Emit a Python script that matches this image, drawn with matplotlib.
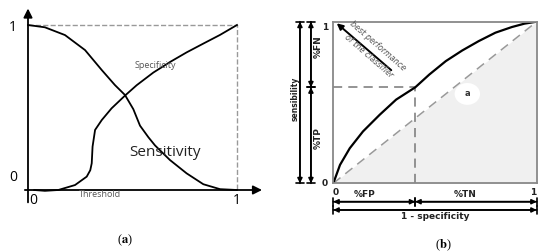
import numpy as np
import matplotlib
matplotlib.use('Agg')
import matplotlib.pyplot as plt
from matplotlib.patches import Ellipse

plt.rcParams['mathtext.fontset'] = 'stix'

# Panel (a): specificity / sensitivity against threshold
spec_x = [0.0, 0.081, 0.177, 0.273, 0.353, 0.416, 0.464, 0.504, 0.536, 0.576, 0.608, 0.679, 0.759, 0.839, 0.919, 1.0]
spec_y = [1.0, 0.986, 0.939, 0.848, 0.727, 0.636, 0.576, 0.49, 0.39, 0.32, 0.27, 0.182, 0.101, 0.035, 0.005, 0.0]

sens_x = [0.03, 0.081, 0.145, 0.225, 0.281, 0.298, 0.305, 0.309, 0.321, 0.353, 0.4, 0.464, 0.52, 0.6, 0.68, 0.759,
          0.84, 0.919, 1.0]
sens_y = [0.0, -0.005, 0.0, 0.03, 0.081, 0.12, 0.162, 0.263, 0.364, 0.424, 0.495, 0.572, 0.635, 0.712, 0.776, 0.834,
          0.888, 0.94, 1.0]

# Panel (b): ROC curve
roc_x = [0.0, 0.033, 0.081, 0.146, 0.228, 0.309, 0.403, 0.472, 0.553, 0.634, 0.715, 0.797, 0.878, 0.94, 1.0]
roc_y = [0.0, 0.114, 0.217, 0.321, 0.424, 0.518, 0.594, 0.673, 0.756, 0.822, 0.88, 0.932, 0.967, 0.988, 1.0]
cut_x, cut_y = 0.403, 0.594

fig = plt.figure(figsize=(5.5, 2.52), dpi=100)

# ---------- (a) ----------
W, H = 550, 252
ax = fig.add_axes([0.83 / W, (H - 231.25) / H, 263.3 / W, 231.0 / H])
ax.set_xlim(-0.13, 1.13)
ax.set_ylim(-0.25, 1.15)
ax.axis('off')

ax.annotate('', xy=(0, 1.1), xytext=(0, -0.075),
            arrowprops=dict(arrowstyle='-|>', color='black', lw=1.3, mutation_scale=13, shrinkA=0, shrinkB=0))
ax.annotate('', xy=(1.12, 0), xytext=(-0.015, 0),
            arrowprops=dict(arrowstyle='-|>', color='black', lw=1.3, mutation_scale=13, shrinkA=0, shrinkB=0))
ax.plot([0, 1, 1], [1, 1, 0], ls='--', color='#999999', lw=1)
ax.plot(spec_x, spec_y, color='black', lw=1.3)
ax.plot(sens_x, sens_y, color='black', lw=1.3)

tk = dict(fontsize=10, family='Open Sans', ha='center', va='center')
ax.text(-0.072, 0.985, '1', **tk)
ax.text(-0.072, 0.075, '0', **tk)
ax.text(0.025, -0.065, '0', **tk)
ax.text(1.0, -0.065, '1', **tk)
ax.text(0.345, -0.025, 'Threshold', fontsize=6.5, color='#555555', family='Open Sans', ha='center', va='center')
ax.text(0.61, 0.755, 'Specificity', fontsize=6.5, color='#555555', family='Open Sans', ha='center', va='center')
ax.text(0.655, 0.225, 'Sensitivity', fontsize=11, color='#222222', family='Open Sans', ha='center', va='center')

# ---------- (b) ----------
bx = fig.add_axes([333.3 / W, (H - 183.3) / H, 203.4 / W, 161.6 / H])
bx.set_xlim(0, 1)
bx.set_ylim(0, 1)
bx.set_xticks([])
bx.set_yticks([])
for s in bx.spines.values():
    s.set_color('#888888')
    s.set_linewidth(1.3)

bx.fill_between([0, 1], [0, 0], [0, 1], color='#f0f0f0', lw=0)
bx.add_patch(Ellipse((0.659, 0.553), 0.125, 0.135, color='white', lw=0))
bx.text(0.659, 0.553, 'a', fontsize=6, fontweight='bold', ha='center', va='center', color='#333333')
bx.plot([0, 1], [0, 1], ls=(0, (6, 4)), color='#999999', lw=1.1)
bx.plot([0, cut_x], [cut_y, cut_y], ls=(0, (6, 4)), color='#777777', lw=1.1)
bx.plot([cut_x, cut_x], [0, cut_y], ls=(0, (6, 4)), color='#777777', lw=1.1)
bx.plot(roc_x, roc_y, color='black', lw=1.6)

bx.annotate('', xy=(0.017, 0.99), xytext=(0.285, 0.7),
            arrowprops=dict(arrowstyle='-|>', color='black', lw=1.4, mutation_scale=9, shrinkA=0, shrinkB=0))
bx.text(0.195, 0.82, 'best performance\nof the classifier', fontsize=5.8, style='italic', color='#555555',
        rotation=-41, rotation_mode='anchor', ha='center', va='center', linespacing=1.7)


def dbl_arrow(p0, p1):
    bx.annotate('', xy=p1, xytext=p0, annotation_clip=False,
                arrowprops=dict(arrowstyle='<|-|>', color='black', lw=1.2, mutation_scale=7, shrinkA=0, shrinkB=0))
    bx.annotate('', xy=p1, xytext=p0, annotation_clip=False,
                arrowprops=dict(arrowstyle='|-|, widthA=0.3, widthB=0.3', color='black', lw=1.2, shrinkA=0, shrinkB=0))


dbl_arrow((-0.164, 0.0), (-0.164, 1.0))
dbl_arrow((-0.11, cut_y), (-0.11, 1.0))
dbl_arrow((-0.11, 0.0), (-0.11, cut_y))
dbl_arrow((0.0, -0.114), (cut_x, -0.114))
dbl_arrow((cut_x, -0.114), (1.0, -0.114))
dbl_arrow((0.0, -0.165), (1.0, -0.165))

lb = dict(fontsize=6.5, fontweight='bold', color='#222222', ha='center', va='center', clip_on=False)
bx.text(-0.19, 0.52, 'sensibility', rotation=90, fontsize=5.5, fontweight='bold', color='#222222',
        ha='center', va='center')
bx.text(-0.074, 0.845, '%FN', rotation=90, **lb)
bx.text(-0.074, 0.28, '%TP', rotation=90, **lb)
bx.text(-0.04, 0.967, '1', **lb)
bx.text(-0.04, 0.0, '0', **lb)
bx.text(0.013, -0.054, '0', **lb)
bx.text(0.982, -0.054, '1', **lb)
bx.text(0.156, -0.068, '%FP', **lb)
bx.text(0.647, -0.068, '%TN', **lb)
bx.text(0.5, -0.205, '1 - specificity', **lb)

# panel letters
fig.text(125 / W, 1 - 240 / H, r'($\mathbf{a}$)', fontsize=9, family='Liberation Serif', ha='center', va='center')
fig.text(443 / W, 1 - 245 / H, r'($\mathbf{b}$)', fontsize=9, family='Liberation Serif', ha='center', va='center')

fig.savefig('out.png', dpi=100)
